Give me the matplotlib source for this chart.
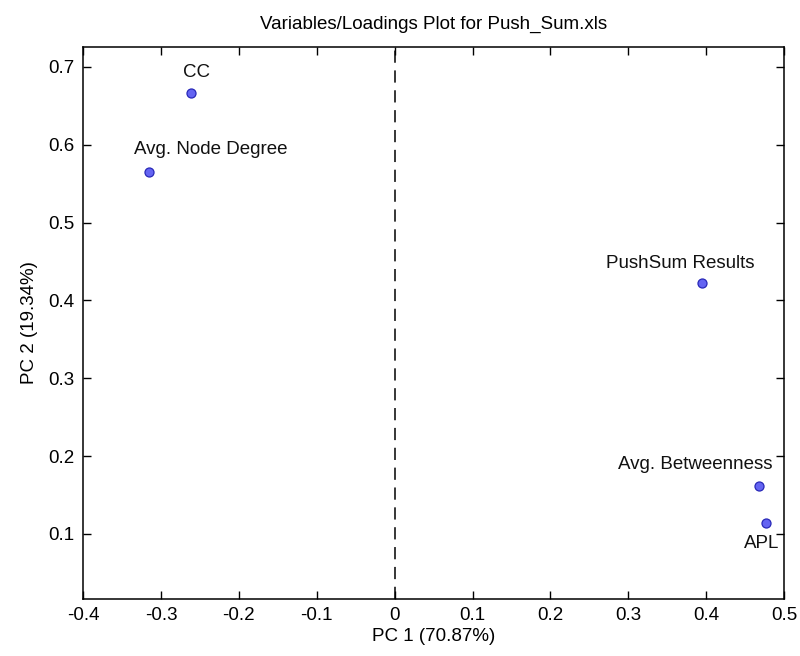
import matplotlib
matplotlib.use('Agg')
import matplotlib.pyplot as plt

plt.rcParams['font.family'] = ['Liberation Sans', 'DejaVu Sans']

# PCA loadings
names = ['CC', 'Avg. Node Degree', 'PushSum Results', 'Avg. Betweenness', 'APL']
pc1 = [-0.261, -0.315, 0.395, 0.4675, 0.4765]
pc2 = [0.666, 0.565, 0.422, 0.161, 0.114]

# label offsets in pixels (dx, dy) relative to each point
offsets = [(5, 12), (61, 14), (-22, 11), (-63, 13), (-4, -12)]

fs = 13.5

fig = plt.figure(figsize=(8, 6.56), dpi=100)
ax = fig.add_axes([0.104, 0.087, 0.876, 0.8414])

ax.axvline(0, color='black', linestyle=(0, (8, 5)), linewidth=1.1, zorder=1)
ax.plot(pc1, pc2, linestyle='none', marker='o', markersize=6.5,
        markerfacecolor='#6464f2', markeredgecolor='#2828b8', markeredgewidth=0.9, zorder=3)

for name, x, y, (dx, dy) in zip(names, pc1, pc2, offsets):
    ax.annotate(name, (x, y), xytext=(dx * 0.72, dy * 0.72), textcoords='offset points',
                ha='center', va='bottom' if dy > 0 else 'top', fontsize=fs, color='#111111',
                annotation_clip=False)

ax.set_xlim(-0.4, 0.5)
ax.set_ylim(0.0165, 0.7257)
ax.set_xticks([-0.4, -0.3, -0.2, -0.1, 0, 0.1, 0.2, 0.3, 0.4, 0.5])
ax.set_xticklabels(['-0.4', '-0.3', '-0.2', '-0.1', '0', '0.1', '0.2', '0.3', '0.4', '0.5'])
ax.set_yticks([0.1, 0.2, 0.3, 0.4, 0.5, 0.6, 0.7])
ax.set_yticklabels(['0.1', '0.2', '0.3', '0.4', '0.5', '0.6', '0.7'])
ax.tick_params(direction='in', length=6, width=1, top=True, right=True, labelsize=fs, pad=6)
for s in ax.spines.values():
    s.set_linewidth(1.1)

ax.set_xlabel('PC 1 (70.87%)', fontsize=fs, labelpad=3)
ax.set_ylabel('PC 2 (19.34%)', fontsize=fs, labelpad=8)
ax.set_title('Variables/Loadings Plot for Push_Sum.xls', fontsize=fs, pad=13)

fig.savefig('out.png', dpi=100, facecolor='white')
